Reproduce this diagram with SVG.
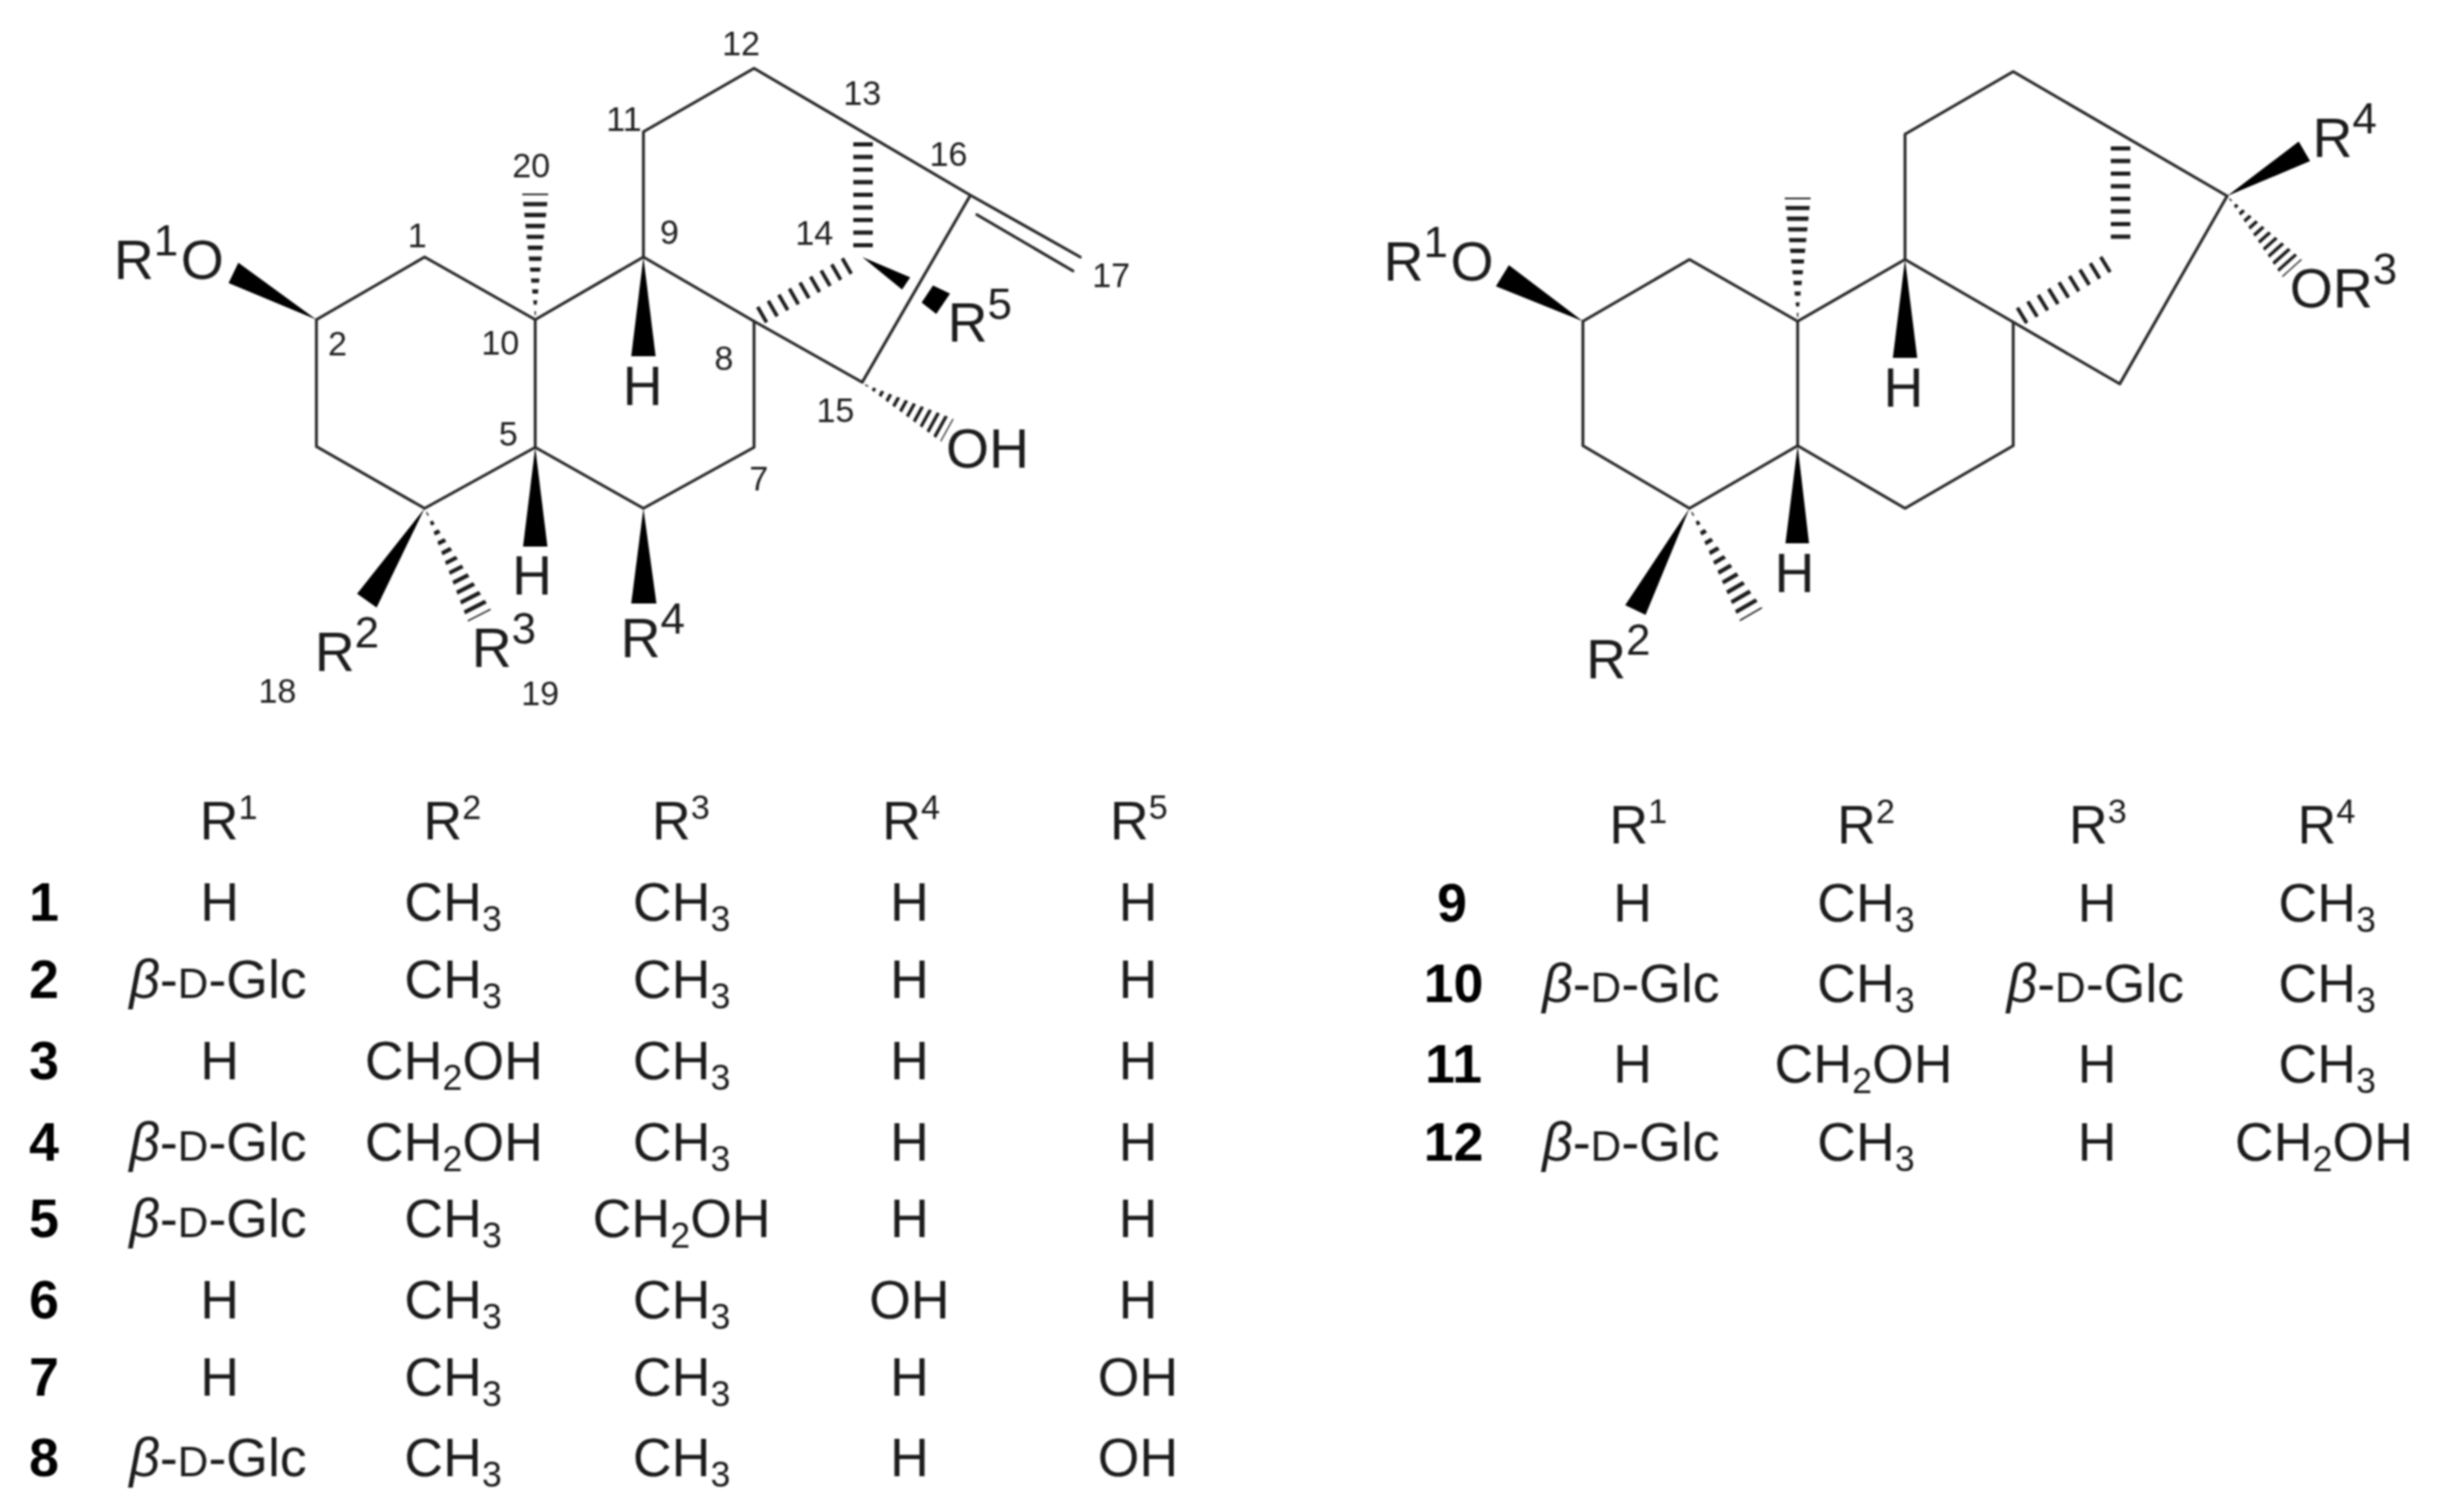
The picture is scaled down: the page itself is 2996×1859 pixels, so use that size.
<svg xmlns="http://www.w3.org/2000/svg" xmlns:xlink="http://www.w3.org/1999/xlink" width="2996" height="1859" viewBox="0 0 2996 1859">
<style>
text{font-family:"Liberation Sans",Arial,sans-serif;fill:#1c1c1c}
.b{fill:none;stroke:#2a2a2a;stroke-width:3.6;stroke-linejoin:round;stroke-linecap:round}
.w{fill:#000}
.hc{stroke:#1c1c1c;stroke-width:24;stroke-dasharray:5 10.5;fill:none}
.hs{stroke:#1c1c1c;stroke-width:22;stroke-dasharray:4.5 10.5;fill:none}
.a{font-size:68px}
.n{font-size:42px;text-anchor:middle;fill:#222}
.t{font-size:66px;text-anchor:middle}
.id{font-size:66px;font-weight:bold;text-anchor:middle;fill:#000}
.i{font-style:italic}
.sc{font-size:52px}
</style>
<defs>
<clipPath id="wc"><polygon points="0,0 150,-16 150,16"/></clipPath>
<g id="hash" clip-path="url(#wc)"><line x1="0" y1="0" x2="150" y2="0" stroke="#1c1c1c" stroke-width="34" stroke-dasharray="5 8" stroke-dashoffset="8"/></g>
<filter id="soft" x="0" y="0" width="1" height="1"><feGaussianBlur stdDeviation="0.9"/></filter>
</defs>
<g filter="url(#soft)">
<g id="connectors">
<g id="bonds-left">
<path class="b" d="M389 393L522 316L658 393L791 316L927 395L927 550L791 625L658 550L522 625L389 549Z"/>
<path class="b" d="M658 393L658 550M791 316L791 162L927 84L1193 240L1060 470L927 395M1193 240L1328 316M1201 264L1319 333"/>
<polygon class="w" points="389,393 281,348 293,323"/>
<polygon class="w" points="791,316 776,438 806,438"/>
<polygon class="w" points="658,550 643,672 673,672"/>
<polygon class="w" points="791,625 776,742 807,742"/>
<polygon class="w" points="522,625 439,730 463,747"/>
<polygon class="w" points="1060,316 1119,341 1109,356"/>
<polygon class="w" points="1147,351 1168,361 1151,386 1133,372"/>
<use xlink:href="#hash" href="#hash" transform="translate(658 393) rotate(-90) scale(1.033 1)"/>
<use xlink:href="#hash" href="#hash" transform="translate(522 625) rotate(62.9) scale(.99 1)"/>
<use xlink:href="#hash" href="#hash" transform="translate(1060 471) rotate(29) scale(.8 1)"/>
<line class="hs" x1="935" y1="388" x2="1050" y2="322"/>
<line class="hc" x1="1061" y1="175" x2="1061" y2="305"/>
</g>
<g id="bonds-right">
<path class="b" d="M1946 395L2077 319L2210 395L2342 319L2475 396L2475 548L2342 625L2210 548L2077 625L1946 548Z"/>
<path class="b" d="M2210 395L2210 548M2342 319L2342 165L2475 88L2738 241L2606 472L2475 396"/>
<polygon class="w" points="1946,395 1839,352 1855,326"/>
<polygon class="w" points="2342,319 2327,440 2357,440"/>
<polygon class="w" points="2210,548 2195,668 2224,668"/>
<polygon class="w" points="2077,625 1998,744 2023,756"/>
<polygon class="w" points="2738,241 2826,174 2840,198"/>
<use xlink:href="#hash" href="#hash" transform="translate(2210 395) rotate(-90) scale(1.013 1)"/>
<use xlink:href="#hash" href="#hash" transform="translate(2738 241) rotate(48) scale(.8 1)"/>
<use xlink:href="#hash" href="#hash" transform="translate(2077 625) rotate(59.9) scale(1.01 1)"/>
<line class="hs" x1="2484" y1="389" x2="2592" y2="323"/>
<line class="hc" x1="2607" y1="180" x2="2607" y2="304"/>
</g>
</g>
<g id="labels-left">
<text class="a" x="140" y="343">R<tspan dy="-29" font-size="54">1</tspan><tspan dy="29" dx="3">O</tspan></text>
<text class="a" text-anchor="middle" x="790" y="498">H</text>
<text class="a" text-anchor="middle" x="654" y="731">H</text>
<text class="a" x="387" y="825">R<tspan dy="-29" font-size="54">2</tspan></text>
<text class="a" x="580" y="820">R<tspan dy="-29" font-size="54">3</tspan></text>
<text class="a" x="763" y="808">R<tspan dy="-29" font-size="54">4</tspan></text>
<text class="a" x="1165" y="420">R<tspan dy="-28" font-size="54">5</tspan></text>
<text class="a" x="1163" y="575">OH</text>
<text class="n" x="911" y="68">12</text><text class="n" x="1060" y="129">13</text><text class="n" x="767" y="161">11</text>
<text class="n" x="1166" y="204">16</text><text class="n" x="653" y="218">20</text><text class="n" x="513" y="304">1</text>
<text class="n" x="823" y="300">9</text><text class="n" x="1001" y="301">14</text><text class="n" x="1366" y="353">17</text>
<text class="n" x="415" y="437">2</text><text class="n" x="615" y="436">10</text><text class="n" x="890" y="455">8</text>
<text class="n" x="1027" y="519">15</text><text class="n" x="625" y="548">5</text><text class="n" x="933" y="603">7</text>
<text class="n" x="341" y="864">18</text><text class="n" x="664" y="867">19</text>
</g>
<g id="labels-right">
<text class="a" x="1701" y="345">R<tspan dy="-29" font-size="54">1</tspan><tspan dy="29" dx="3">O</tspan></text>
<text class="a" text-anchor="middle" x="2340" y="500">H</text>
<text class="a" text-anchor="middle" x="2206" y="728">H</text>
<text class="a" x="1950" y="834">R<tspan dy="-29" font-size="54">2</tspan></text>
<text class="a" x="2843" y="193">R<tspan dy="-29" font-size="54">4</tspan></text>
<text class="a" x="2815" y="378">OR<tspan dy="-29" font-size="54">3</tspan></text>
</g>
<g id="table-left">
<text class="t" x="281" y="1032">R<tspan dy="-25" font-size="42">1</tspan></text>
<text class="t" x="556" y="1032">R<tspan dy="-25" font-size="42">2</tspan></text>
<text class="t" x="837" y="1032">R<tspan dy="-25" font-size="42">3</tspan></text>
<text class="t" x="1120" y="1032">R<tspan dy="-25" font-size="42">4</tspan></text>
<text class="t" x="1400" y="1032">R<tspan dy="-25" font-size="42">5</tspan></text>
<g id="row-1"><text class="id" x="54" y="1132">1</text><text class="t" x="270" y="1132">H</text><text class="t" x="557" y="1132">CH<tspan dy="13" font-size="44">3</tspan></text><text class="t" x="838" y="1132">CH<tspan dy="13" font-size="44">3</tspan></text><text class="t" x="1118" y="1132">H</text><text class="t" x="1399" y="1132">H</text></g>
<g id="row-2"><text class="id" x="54" y="1227">2</text><text class="t" x="268" y="1227"><tspan class="i">β</tspan>-<tspan class="sc">D</tspan>-Glc</text><text class="t" x="557" y="1227">CH<tspan dy="13" font-size="44">3</tspan></text><text class="t" x="838" y="1227">CH<tspan dy="13" font-size="44">3</tspan></text><text class="t" x="1118" y="1227">H</text><text class="t" x="1399" y="1227">H</text></g>
<g id="row-3"><text class="id" x="54" y="1327">3</text><text class="t" x="270" y="1327">H</text><text class="t" x="558" y="1327">CH<tspan dy="13" font-size="44">2</tspan><tspan dy="-13">OH</tspan></text><text class="t" x="838" y="1327">CH<tspan dy="13" font-size="44">3</tspan></text><text class="t" x="1118" y="1327">H</text><text class="t" x="1399" y="1327">H</text></g>
<g id="row-4"><text class="id" x="54" y="1427">4</text><text class="t" x="268" y="1427"><tspan class="i">β</tspan>-<tspan class="sc">D</tspan>-Glc</text><text class="t" x="558" y="1427">CH<tspan dy="13" font-size="44">2</tspan><tspan dy="-13">OH</tspan></text><text class="t" x="838" y="1427">CH<tspan dy="13" font-size="44">3</tspan></text><text class="t" x="1118" y="1427">H</text><text class="t" x="1399" y="1427">H</text></g>
<g id="row-5"><text class="id" x="54" y="1521">5</text><text class="t" x="268" y="1521"><tspan class="i">β</tspan>-<tspan class="sc">D</tspan>-Glc</text><text class="t" x="557" y="1521">CH<tspan dy="13" font-size="44">3</tspan></text><text class="t" x="838" y="1521">CH<tspan dy="13" font-size="44">2</tspan><tspan dy="-13">OH</tspan></text><text class="t" x="1118" y="1521">H</text><text class="t" x="1399" y="1521">H</text></g>
<g id="row-6"><text class="id" x="54" y="1621">6</text><text class="t" x="270" y="1621">H</text><text class="t" x="557" y="1621">CH<tspan dy="13" font-size="44">3</tspan></text><text class="t" x="838" y="1621">CH<tspan dy="13" font-size="44">3</tspan></text><text class="t" x="1118" y="1621">OH</text><text class="t" x="1399" y="1621">H</text></g>
<g id="row-7"><text class="id" x="54" y="1716">7</text><text class="t" x="270" y="1716">H</text><text class="t" x="557" y="1716">CH<tspan dy="13" font-size="44">3</tspan></text><text class="t" x="838" y="1716">CH<tspan dy="13" font-size="44">3</tspan></text><text class="t" x="1118" y="1716">H</text><text class="t" x="1399" y="1716">OH</text></g>
<g id="row-8"><text class="id" x="54" y="1815">8</text><text class="t" x="268" y="1815"><tspan class="i">β</tspan>-<tspan class="sc">D</tspan>-Glc</text><text class="t" x="557" y="1815">CH<tspan dy="13" font-size="44">3</tspan></text><text class="t" x="838" y="1815">CH<tspan dy="13" font-size="44">3</tspan></text><text class="t" x="1118" y="1815">H</text><text class="t" x="1399" y="1815">OH</text></g>
</g>
<g id="table-right">
<text class="t" x="2014" y="1037">R<tspan dy="-25" font-size="42">1</tspan></text>
<text class="t" x="2294" y="1037">R<tspan dy="-25" font-size="42">2</tspan></text>
<text class="t" x="2579" y="1037">R<tspan dy="-25" font-size="42">3</tspan></text>
<text class="t" x="2860" y="1037">R<tspan dy="-25" font-size="42">4</tspan></text>
<g id="row-9"><text class="id" x="1785" y="1133">9</text><text class="t" x="2007" y="1133">H</text><text class="t" x="2294" y="1133">CH<tspan dy="13" font-size="44">3</tspan></text><text class="t" x="2578" y="1133">H</text><text class="t" x="2861" y="1133">CH<tspan dy="13" font-size="44">3</tspan></text></g>
<g id="row-10"><text class="id" x="1787" y="1232">10</text><text class="t" x="2005" y="1232"><tspan class="i">β</tspan>-<tspan class="sc">D</tspan>-Glc</text><text class="t" x="2294" y="1232">CH<tspan dy="13" font-size="44">3</tspan></text><text class="t" x="2576" y="1232"><tspan class="i">β</tspan>-<tspan class="sc">D</tspan>-Glc</text><text class="t" x="2861" y="1232">CH<tspan dy="13" font-size="44">3</tspan></text></g>
<g id="row-11"><text class="id" x="1787" y="1331">11</text><text class="t" x="2007" y="1331">H</text><text class="t" x="2291" y="1331">CH<tspan dy="13" font-size="44">2</tspan><tspan dy="-13">OH</tspan></text><text class="t" x="2578" y="1331">H</text><text class="t" x="2861" y="1331">CH<tspan dy="13" font-size="44">3</tspan></text></g>
<g id="row-12"><text class="id" x="1787" y="1427">12</text><text class="t" x="2005" y="1427"><tspan class="i">β</tspan>-<tspan class="sc">D</tspan>-Glc</text><text class="t" x="2294" y="1427">CH<tspan dy="13" font-size="44">3</tspan></text><text class="t" x="2578" y="1427">H</text><text class="t" x="2857" y="1427">CH<tspan dy="13" font-size="44">2</tspan><tspan dy="-13">OH</tspan></text></g>
</g>
</g>
</svg>
